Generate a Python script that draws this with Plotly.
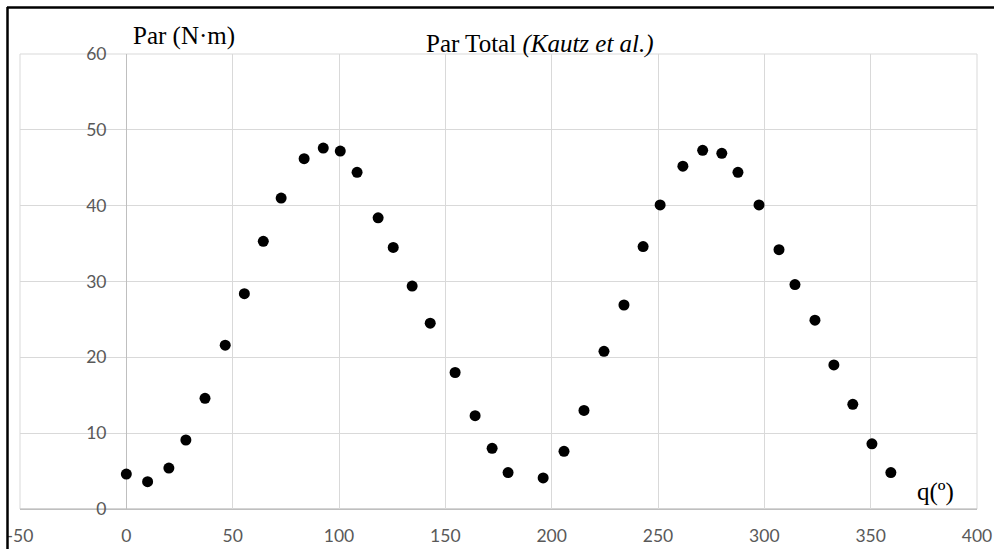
import plotly.graph_objects as go

# Data
angle_deg = [0, 10, 20, 28, 37, 46.5, 55.5, 64.4, 72.8, 83.6, 92.6, 100.6, 108.5, 118.4,
             125.5, 134.4, 142.9, 154.6, 164, 172, 179.5, 196, 205.8, 215.2, 224.6, 234,
             243, 251, 261.7, 271, 280, 287.6, 297.5, 306.9, 314.4, 323.8, 332.7, 341.6,
             350.6, 359.5]
torque_nm = [4.6, 3.6, 5.4, 9.1, 14.6, 21.6, 28.4, 35.3, 41.0, 46.2, 47.6, 47.2, 44.4, 38.4,
             34.5, 29.4, 24.5, 18.0, 12.3, 8.0, 4.8, 4.1, 7.6, 13.0, 20.8, 26.9,
             34.6, 40.1, 45.2, 47.3, 46.9, 44.4, 40.1, 34.2, 29.6, 24.9, 19.0, 13.8,
             8.6, 4.8]

x_ticks = [-50, 0, 50, 100, 150, 200, 250, 300, 350, 400]
y_ticks = [0, 10, 20, 30, 40, 50, 60]

W, H = 994, 549
L, R, T, B = 20, 17, 54, 40
pw, ph = W - L - R, H - T - B

def px(xp):
    return (xp - L) / pw

def py(yp):
    return (H - B - yp) / ph

tick_font = dict(family="Lato, Open Sans, sans-serif", size=17.5, color="#595959")
serif = "Liberation Serif, Times New Roman, serif"

fig = go.Figure()
fig.add_trace(go.Scatter(
    x=angle_deg, y=torque_nm, mode="markers",
    marker=dict(color="black", size=11),
    showlegend=False, cliponaxis=False,
))

fig.update_layout(
    width=W, height=H,
    margin=dict(l=L, r=R, t=T, b=B),
    paper_bgcolor="white", plot_bgcolor="white",
    xaxis=dict(
        range=[-50, 400], tickvals=x_ticks, ticktext=[str(v) for v in x_ticks],
        showgrid=True, gridcolor="#d9d9d9", gridwidth=1,
        zeroline=True, zerolinecolor="#bfbfbf", zerolinewidth=1,
        showline=False, ticks="outside", ticklen=11, tickcolor="rgba(0,0,0,0)",
        tickfont=tick_font, fixedrange=True, automargin=False,
    ),
    yaxis=dict(
        range=[0, 60], tickvals=y_ticks, ticktext=[str(v) for v in y_ticks],
        showgrid=True, gridcolor="#d9d9d9", gridwidth=1,
        zeroline=True, zerolinecolor="#bfbfbf", zerolinewidth=1,
        showline=False, anchor="free", position=px(126),
        ticks="outside", ticklen=16, tickcolor="rgba(0,0,0,0)",
        tickfont=tick_font, fixedrange=True, automargin=False,
    ),
    shapes=[
        dict(type="rect", xref="paper", yref="paper", x0=0, x1=1, y0=0, y1=1,
             line=dict(color="#d9d9d9", width=1), layer="below"),
        dict(type="line", xref="paper", yref="paper", x0=0, x1=1, y0=0, y1=0,
             line=dict(color="#bfbfbf", width=1), layer="below"),
        dict(type="line", xref="paper", yref="paper", x0=px(7), x1=px(W + 2),
             y0=py(7.5), y1=py(7.5), line=dict(color="black", width=2.5)),
        dict(type="line", xref="paper", yref="paper", x0=px(7.5), x1=px(7.5),
             y0=py(7), y1=py(H + 2), line=dict(color="black", width=2.5)),
    ],
    annotations=[
        dict(text="Par (N·m)", xref="paper", yref="paper", x=px(131), y=py(36),
             xanchor="left", yanchor="middle", showarrow=False,
             font=dict(family=serif, size=25, color="black")),
        dict(text="Par Total <i>(Kautz et al.)</i>", xref="paper", yref="paper",
             x=px(540), y=py(44), xanchor="center", yanchor="middle", showarrow=False,
             font=dict(family=serif, size=25, color="black")),
        dict(text="q(º)", xref="paper", yref="paper", x=px(935.5), y=py(492),
             xanchor="center", yanchor="middle", showarrow=False,
             font=dict(family=serif, size=25, color="black")),
    ],
)

fig.write_html(
    "out.html",
    config={"displayModeBar": False},
    post_script="document.body.style.margin='0';document.body.style.padding='0';"
                "document.body.style.overflow='hidden';",
)
